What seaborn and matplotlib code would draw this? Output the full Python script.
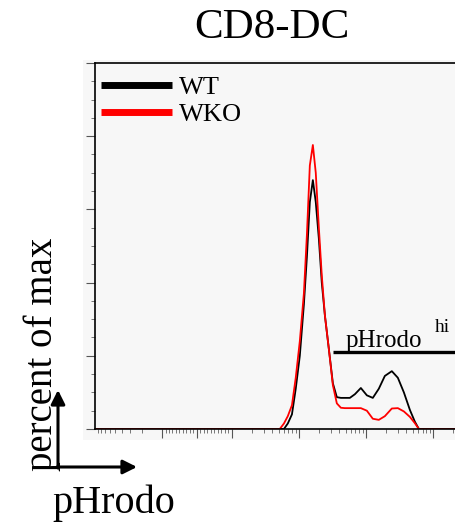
#!/usr/bin/env python3
import numpy as np
import pandas as pd
import seaborn as sns
import matplotlib.pyplot as plt
from matplotlib.ticker import FixedLocator, NullFormatter
from matplotlib.lines import Line2D
from matplotlib.patches import Rectangle

# fluorescence intensity grid (pHrodo), shared by both histograms
intensity = [-1000, 520, 600, 685, 790, 900, 1035, 1190, 1320, 1460, 1620, 1790,
             1990, 2200, 2450, 2800, 3220, 3690, 4240, 4860, 5770, 6860, 8420,
             10350, 12700, 15600, 19200, 24400, 30000, 36900, 45400, 53800,
             61800, 262144]

# percent of max
wt = [0, 0, 0, 1.5, 4, 11, 20, 34, 47, 62, 68, 62, 52, 40, 31, 22, 12.5, 8.7,
      8.5, 8.5, 8.5, 9.5, 11.2, 9.2, 8.5, 11, 14.5, 15.8, 14, 10, 5.2, 2, 0, 0]
wko = [0, 0, 1.5, 3.5, 6.5, 14, 24, 37, 53, 72, 77.6, 70, 55, 42, 31, 22, 12, 7,
       5.8, 5.7, 5.7, 5.7, 5.7, 5, 2.8, 2.5, 3.5, 5.6, 5.7, 4.8, 3.3, 1.6, 0, 0]

groups = ['WT', 'WKO']
colors = ['black', '#ff0000']

# pHrodo-hi gate
gate_lo, gate_hi, gate_level = 3220, 262144, 21

x_major = [-100, 0, 100, 1000, 10000, 100000]
x_minor = ([-m * 100 for m in range(2, 10)] + [-m * 10 for m in range(1, 10)] +
           [m * 10 for m in range(1, 10)] + [m * 100 for m in range(2, 10)] +
           [m * 1000 for m in range(2, 10)] + [m * 10000 for m in range(2, 10)] +
           [200000])

panel = '#f7f7f7'


def main():
    sns.set_theme(style='white')
    plt.rcParams['font.family'] = ['Liberation Serif', 'DejaVu Serif']
    plt.rcParams['text.color'] = 'black'

    df = pd.DataFrame({
        'pHrodo': intensity * 2,
        'pct': wt + wko,
        'group': ['WT'] * len(wt) + ['WKO'] * len(wko),
    })

    fig = plt.figure(figsize=(4.56, 5.24), dpi=100, facecolor='white')
    fig.add_artist(Rectangle((0.182, 0.160), 0.818, 0.725, transform=fig.transFigure,
                             facecolor=panel, edgecolor='none', zorder=0))
    ax = fig.add_axes([0.2083, 0.1813, 0.8026, 0.6985])
    ax.set_facecolor(panel)
    ax.set_xscale('symlog', linthresh=100, linscale=0.468)

    for g, c in zip(groups, colors):
        sns.lineplot(data=df[df['group'] == g], x='pHrodo', y='pct', color=c,
                     lw=1.3, estimator=None, sort=False, ax=ax, legend=False)

    ax.set_xlim(-1000, 262144)
    ax.set_ylim(0, 100)

    # gate
    ax.hlines(gate_level, gate_lo, gate_hi, color='black', lw=2.4, zorder=5)
    ax.text(5027, gate_level + 1.5, 'pHrodo', fontsize=18, va='baseline', ha='left')
    ax.text(107000, gate_level + 5.5, 'hi', fontsize=14, va='baseline', ha='left')

    # axes look
    ax.xaxis.set_major_locator(FixedLocator(x_major))
    ax.xaxis.set_minor_locator(FixedLocator(x_minor))
    ax.yaxis.set_major_locator(FixedLocator(range(0, 101, 20)))
    ax.yaxis.set_minor_locator(FixedLocator(range(0, 101, 5)))
    for axis in (ax.xaxis, ax.yaxis):
        axis.set_major_formatter(NullFormatter())
        axis.set_minor_formatter(NullFormatter())
    ax.tick_params(which='major', direction='out', length=6.5, width=0.8,
                   color='#555555', bottom=True, left=True)
    ax.tick_params(which='minor', direction='out', length=3, width=0.7,
                   color='#777777', bottom=True, left=True)
    ax.set_xlabel('')
    ax.set_ylabel('')
    for side in ('left', 'top', 'bottom'):
        ax.spines[side].set_color('black')
        ax.spines[side].set_linewidth(1.2)
    ax.spines['right'].set_visible(False)

    handles = [Line2D([], [], color=c, lw=5, solid_capstyle='butt') for c in colors]
    leg = ax.legend(handles, groups, loc='upper left', bbox_to_anchor=(0.016, 0.965),
                    frameon=False, fontsize=19, handlelength=2.7, handletextpad=0.25,
                    labelspacing=0.12, borderpad=0, borderaxespad=0)
    for t in leg.get_texts():
        t.set_color('black')

    # titles and arrow labels
    fig.text(272 / 456, 1 - 38 / 524, 'CD8-DC', fontsize=31, ha='center', va='baseline')
    fig.text(42 / 456, 1 - 354 / 524, 'percent of max', fontsize=28, rotation=90,
             ha='center', va='center')
    fig.text(114 / 456, 1 - 513 / 524, 'pHrodo', fontsize=29, ha='center', va='baseline')

    arrow = dict(arrowstyle='-|>,head_length=0.7,head_width=0.35', color='black',
                 lw=2.2, shrinkA=0, shrinkB=0)
    ax.annotate('', xy=(58, 134), xytext=(58, 56), xycoords='figure pixels',
                textcoords='figure pixels', arrowprops=arrow, annotation_clip=False)
    ax.annotate('', xy=(137, 57), xytext=(57, 57), xycoords='figure pixels',
                textcoords='figure pixels', arrowprops=arrow, annotation_clip=False)

    fig.savefig('out.png', dpi=100, facecolor='white')


if __name__ == '__main__':
    main()
